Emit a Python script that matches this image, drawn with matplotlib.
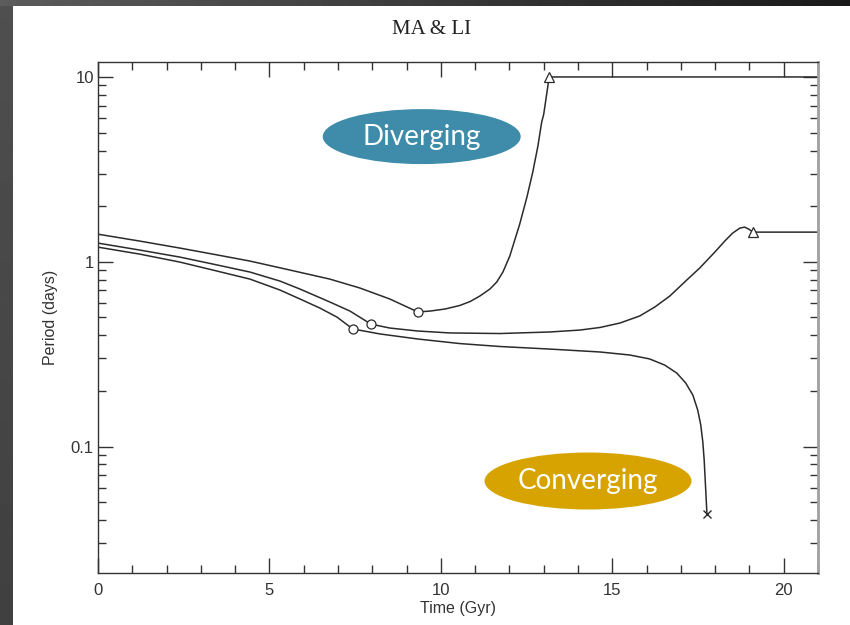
import numpy as np
import matplotlib
matplotlib.use("Agg")
import matplotlib.pyplot as plt
from matplotlib.patches import Ellipse
from matplotlib.ticker import FixedLocator, MultipleLocator, LogLocator, NullFormatter

# Track 1: diverging to the wide orbit (period in days vs time in Gyr)
div_time = [0.0, 1.22, 2.39, 3.35, 4.43, 5.6, 6.76, 7.64, 8.51, 9.33, 9.68, 10.12, 10.55,
            10.85, 11.14, 11.43, 11.63, 11.81, 12.01, 12.3, 12.51, 12.68, 12.83, 12.94,
            13.0, 13.06, 13.12, 13.16, 21.0]
div_period = [1.41, 1.294, 1.186, 1.10, 1.009, 0.902, 0.806, 0.721, 0.629, 0.535, 0.541,
              0.555, 0.58, 0.609, 0.653, 0.712, 0.777, 0.88, 1.073, 1.599, 2.237, 3.054,
              4.222, 5.69, 6.28, 7.48, 8.91, 10.0, 10.0]

# Track 2: slow evolution, levels off near 1.45 d
mid_time = [0.0, 1.22, 2.39, 3.35, 4.43, 5.31, 5.89, 6.76, 7.35, 7.96, 8.51, 9.33, 10.26,
            11.72, 13.18, 14.05, 14.64, 15.22, 15.8, 16.24, 16.68, 17.17, 17.55, 17.99,
            18.28, 18.51, 18.72, 18.86, 18.98, 19.1, 21.0]
mid_period = [1.262, 1.157, 1.06, 0.972, 0.88, 0.786, 0.712, 0.606, 0.541, 0.46, 0.438,
              0.422, 0.412, 0.409, 0.417, 0.427, 0.441, 0.466, 0.509, 0.569, 0.653, 0.796,
              0.925, 1.128, 1.294, 1.429, 1.521, 1.54, 1.502, 1.447, 1.447]

# Track 3: converging, ends in merger
conv_time = [0.0, 1.22, 2.39, 3.35, 4.43, 5.31, 5.89, 6.47, 6.97, 7.43, 8.22, 9.33, 10.55,
             11.72, 13.18, 14.64, 15.51, 16.09, 16.53, 16.88, 17.14, 17.35, 17.49, 17.58,
             17.64, 17.68, 17.71, 17.74, 17.76]
conv_period = [1.20, 1.10, 0.996, 0.902, 0.806, 0.703, 0.629, 0.562, 0.502, 0.433, 0.407,
               0.382, 0.361, 0.348, 0.337, 0.325, 0.313, 0.298, 0.276, 0.25, 0.221, 0.19,
               0.158, 0.131, 0.106, 0.0847, 0.0661, 0.0515, 0.0433]

# Event markers
start_time = [9.33, 7.96, 7.43]
start_period = [0.535, 0.46, 0.433]
stop_time = [13.16, 19.1]
stop_period = [10.0, 1.447]
merge_time = [17.76]
merge_period = [0.0433]

y_ticks = [0.1, 1, 10]
y_tick_labels = ["0.1", "1", "10"]

ink = "#2b2b2b"
sans = ["Liberation Sans", "DejaVu Sans"]

fig = plt.figure(figsize=(8.5, 6.25), dpi=100)
fig.patch.set_facecolor("white")

# dark slide frame along the top and left edges
top = fig.add_axes([0, 1 - 6 / 625, 1, 6 / 625])
top.imshow(np.linspace(0.36, 0.1, 256)[None, :], cmap="gray", vmin=0, vmax=1, aspect="auto")
top.axis("off")
side = fig.add_axes([0, 0, 13 / 850, 1 - 6 / 625])
side.imshow(np.linspace(0.31, 0.25, 256)[:, None], cmap="gray", vmin=0, vmax=1, aspect="auto")
side.axis("off")

ax = fig.add_axes([98 / 850, 52 / 625, 720 / 850, 511 / 625])
ax.set_yscale("log")
ax.set_xlim(0, 21)
ax.set_ylim(0.0207, 12.05)

ax.plot(div_time, div_period, color=ink, lw=1.1)
ax.plot(mid_time, mid_period, color=ink, lw=1.1)
ax.plot(conv_time, conv_period, color=ink, lw=1.1)
ax.plot(start_time, start_period, "o", mfc="white", mec=ink, ms=6.5, mew=0.9)
ax.plot(stop_time, stop_period, "^", mfc="white", mec=ink, ms=7, mew=0.9)
ax.plot(merge_time, merge_period, "x", color=ink, ms=6, mew=1.0)

ax.xaxis.set_major_locator(MultipleLocator(5))
ax.xaxis.set_minor_locator(MultipleLocator(1))
ax.yaxis.set_major_locator(FixedLocator(y_ticks))
ax.set_yticklabels(y_tick_labels)
ax.yaxis.set_minor_locator(LogLocator(base=10, subs=np.arange(2, 10)))
ax.yaxis.set_minor_formatter(NullFormatter())

ax.tick_params(which="both", direction="in", top=True, right=True, color="#333333")
ax.tick_params(which="major", length=10.5, width=1.0, labelsize=12, labelcolor="#333333")
ax.tick_params(which="minor", length=5.5, width=1.0)
ax.tick_params(axis="x", which="major", pad=7)
ax.tick_params(axis="y", which="major", pad=3)
for lab in ax.get_xticklabels() + ax.get_yticklabels():
    lab.set_family(sans)

for side_name in ["left", "bottom", "top"]:
    ax.spines[side_name].set_color("#333333")
    ax.spines[side_name].set_linewidth(1.0)
ax.spines["right"].set_color("#a0a0a0")
ax.spines["right"].set_linewidth(2.0)

ax.set_xlabel("Time (Gyr)", family=sans, fontsize=11.5, color="#333333", labelpad=2)
ax.set_ylabel("Period (days)", family=sans, fontsize=11.5, color="#333333", labelpad=9)

fig.text(432 / 850, 1 - 30 / 625, "MA & LI", ha="center", va="center",
         family=["Liberation Serif", "DejaVu Serif"], fontsize=15, color="#222222")

# callout bubbles
ax.add_patch(Ellipse((0.4496, 0.854), 0.275, 0.1076, transform=ax.transAxes,
                     facecolor="#3e8caa", edgecolor="none", zorder=3))
ax.text(0.4496, 0.854, "Diverging", transform=ax.transAxes, ha="center", va="center",
        family=["Lato", "DejaVu Sans"], fontsize=20, color="white", zorder=4)
ax.add_patch(Ellipse((0.6806, 0.18), 0.2875, 0.1115, transform=ax.transAxes,
                     facecolor="#d6a300", edgecolor="none", zorder=3))
ax.text(0.6806, 0.18, "Converging", transform=ax.transAxes, ha="center", va="center",
        family=["Lato", "DejaVu Sans"], fontsize=20, color="white", zorder=4)

fig.savefig("out.png", dpi=100)
